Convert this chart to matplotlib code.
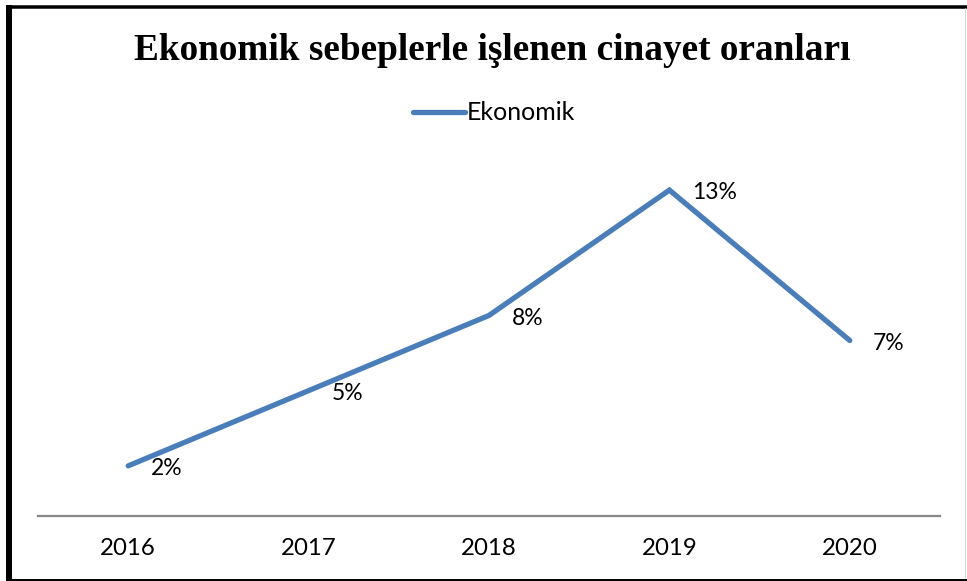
import matplotlib
matplotlib.use("Agg")
import matplotlib.pyplot as plt
from matplotlib.lines import Line2D

years = ["2016", "2017", "2018", "2019", "2020"]
ekonomik = [2, 5, 8, 13, 7]
series_name = "Ekonomik"
title = "Ekonomik sebeplerle işlenen cinayet oranları"

W, H = 967, 581
fig = plt.figure(figsize=(W / 100, H / 100), dpi=100)
fig.patch.set_facecolor("white")

ax = fig.add_axes([38 / W, 65 / H, 902 / W, 351 / H])
x = list(range(len(years)))
line, = ax.plot(x, ekonomik, color="#4A7EBB", lw=3.8, solid_capstyle="round",
                solid_joinstyle="miter", label=series_name)
ax.set_xlim(-0.5, len(years) - 0.5)
ax.set_ylim(0, 14)

for xi, v in zip(x, ekonomik):
    ax.annotate(f"{v}%", (xi, v), xytext=(16.5, -2), textcoords="offset points",
                ha="left", va="center", fontsize=16.5, family="Lato", color="black")

for s in ["top", "right", "left"]:
    ax.spines[s].set_visible(False)
ax.spines["bottom"].set_color("#888888")
ax.spines["bottom"].set_linewidth(1.6)
ax.set_yticks([])
ax.set_xticks(x)
ax.set_xticklabels(years, family="Lato", fontsize=17.3)
ax.tick_params(axis="x", length=0, pad=16)

fig.text(492 / W, 1 - 51 / H, title, ha="center", va="center",
         family="Liberation Serif", weight="bold", fontsize=26.8)

fig.legend(handles=[line], loc="center", bbox_to_anchor=(494 / W, 1 - 113 / H),
           frameon=False, prop={"family": "Lato", "size": 18},
           handlelength=2.1, handletextpad=0.05)

# frame around the chart
def px_line(x0, y0, x1, y1, color, lw):
    fig.add_artist(Line2D([x0 / W, x1 / W], [1 - y0 / H, 1 - y1 / H],
                          transform=fig.transFigure, color=color, lw=lw * 0.72,
                          solid_capstyle="butt"))

px_line(9, 5, 9, 581, "black", 6)
px_line(6, 6.5, 967, 6.5, "black", 3.5)
px_line(6, 579.5, 967, 579.5, "black", 3)
px_line(965, 8, 965, 578, "#d9d9d9", 1)

fig.savefig("out.png", dpi=100)
